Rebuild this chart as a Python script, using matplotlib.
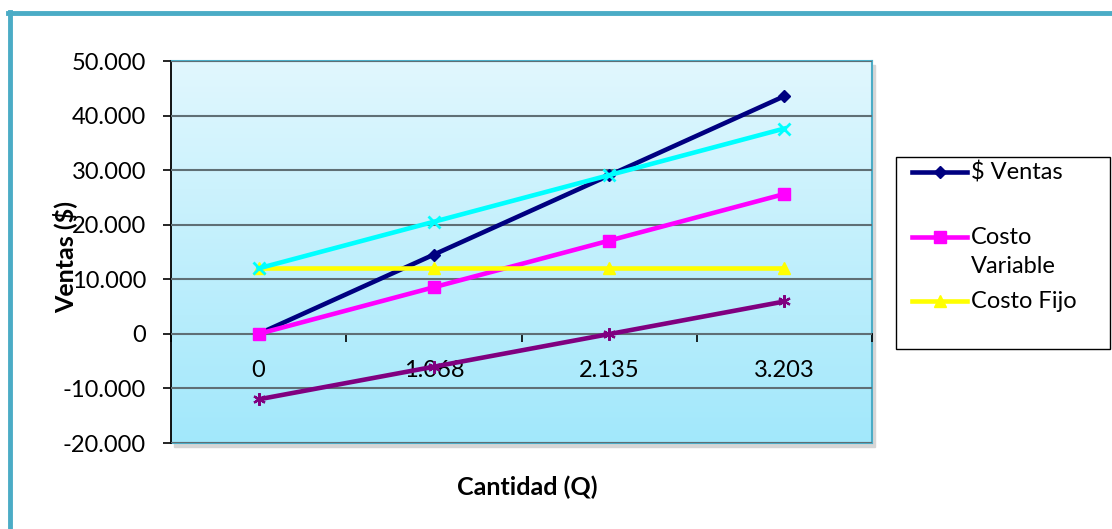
import numpy as np
import matplotlib
matplotlib.use("Agg")
import matplotlib.pyplot as plt
from matplotlib.colors import LinearSegmentedColormap
from matplotlib.lines import Line2D
from matplotlib.patches import Rectangle
from matplotlib.ticker import FuncFormatter, FixedLocator

plt.rcParams['font.family'] = ['Lato', 'DejaVu Sans']

cantidad = ['0', '1.068', '2.135', '3.203']
ventas = [0, 14525, 29036, 43561]
costo_variable = [0, 8544, 17080, 25624]
costo_fijo = [12000, 12000, 12000, 12000]
costo_total = [12000, 20544, 29080, 37624]
utilidad = [-12000, -6019, -44, 5937]

teal = '#4bacc6'
fs = 17
lw = 3.3

W, H = 1112, 529
fig = plt.figure(figsize=(W / 100, H / 100), dpi=100)
ax = fig.add_axes([171/W, 86/H, 701/W, 382/H])
ax.set_zorder(2)

# shadow behind plot area
fig.patches.append(Rectangle((174/W, 82/H), 701/W, 382/H,
                             transform=fig.transFigure, color='#d6d6d6', zorder=0))

# gradient background
bg = LinearSegmentedColormap.from_list('bg', ['#e1f7fe', '#a2e8fb'])
ax.imshow(np.linspace(0, 1, 256).reshape(-1, 1), cmap=bg, extent=[0, 1, 0, 1],
          transform=ax.transAxes, aspect='auto', zorder=0)

x = np.arange(len(cantidad))
ax.plot(x, ventas, color='#000080', lw=lw, marker='D', ms=6.5, zorder=3)
ax.plot(x, costo_variable, color='#ff00ff', lw=lw, marker='s', ms=9, zorder=3)
ax.plot(x, costo_fijo, color='#ffff00', lw=lw, marker='^', ms=9, zorder=3)
ax.plot(x, costo_total, color='#00ffff', lw=lw, marker='x', ms=8, mew=2, zorder=3)
ax.plot(x, utilidad, color='#800080', lw=lw, marker=(6, 2, 0), ms=9, mew=1.6, zorder=3)

ax.set_xlim(-0.5, len(cantidad) - 0.5)
ax.set_ylim(-20000, 50000)
ax.yaxis.set_major_locator(FixedLocator(np.arange(-20000, 50001, 10000)))
ax.yaxis.set_major_formatter(FuncFormatter(lambda v, p: f"{int(v):,}".replace(',', '.')))
ax.grid(axis='y', color='#5f6f75', lw=1.5)
ax.set_axisbelow(False)
for gl in ax.get_ygridlines():
    gl.set_zorder(1)

ax.set_xticks(x)
ax.set_xticklabels(cantidad)
ax.set_xticks(np.arange(-0.5, len(cantidad), 1.0), minor=True)
ax.tick_params(axis='x', which='major', length=0, pad=19, labelsize=fs)
ax.tick_params(axis='x', which='minor', length=6, width=1.2, direction='out', color='black')
ax.tick_params(axis='y', length=6, width=1.2, pad=12, labelsize=fs)

ax.spines['bottom'].set_position(('data', 0))
ax.spines['bottom'].set_color('black')
ax.spines['bottom'].set_linewidth(1.3)
ax.spines['left'].set_color('black')
ax.spines['left'].set_linewidth(1.3)
ax.spines['top'].set_color(teal)
ax.spines['right'].set_color(teal)
ax.spines['top'].set_linewidth(1.5)
ax.spines['right'].set_linewidth(1.5)
ax.plot([0, 1], [0, 0], transform=ax.transAxes, color=teal, lw=1.5, clip_on=False, zorder=2)

fig.text(65/W, 1 - 257/H, 'Ventas ($)', rotation=90, ha='center', va='center',
         fontsize=18, fontweight='bold', zorder=5)
fig.text(527/W, 1 - 487/H, 'Cantidad (Q)', ha='center', va='center',
         fontsize=18, fontweight='bold')

# legend (only the first three entries fit in the box)
fig.patches.append(Rectangle((896/W, 1 - 349/H), 214/W, 192/H, transform=fig.transFigure,
                             facecolor='white', edgecolor='black', lw=1.0, zorder=1))
legend_items = [
    (dict(color='#000080', marker='D', ms=6.5), '$ Ventas', 172),
    (dict(color='#ff00ff', marker='s', ms=9), 'Costo\nVariable', 237),
    (dict(color='#ffff00', marker='^', ms=9), 'Costo Fijo', 301),
]
for style, label, ypx in legend_items:
    yf = 1 - ypx / H
    fig.add_artist(Line2D([912/W, 967/W], [yf, yf], lw=lw, color=style['color'],
                          transform=fig.transFigure, zorder=3))
    fig.add_artist(Line2D([939.5/W], [yf], lw=0, transform=fig.transFigure, zorder=3, **style))
    fig.text(971/W, yf + 10/H, label, ha='left', va='top', fontsize=fs,
             linespacing=1.45, zorder=4)

# outer frame
fig.add_artist(Line2D([10/W, 10/W], [0, 1 - 12/H], color=teal, lw=3.5,
                      transform=fig.transFigure))
fig.add_artist(Line2D([8/W, 1], [1 - 13/H, 1 - 13/H], color=teal, lw=3.5,
                      transform=fig.transFigure))

fig.savefig('out.png', dpi=100)
